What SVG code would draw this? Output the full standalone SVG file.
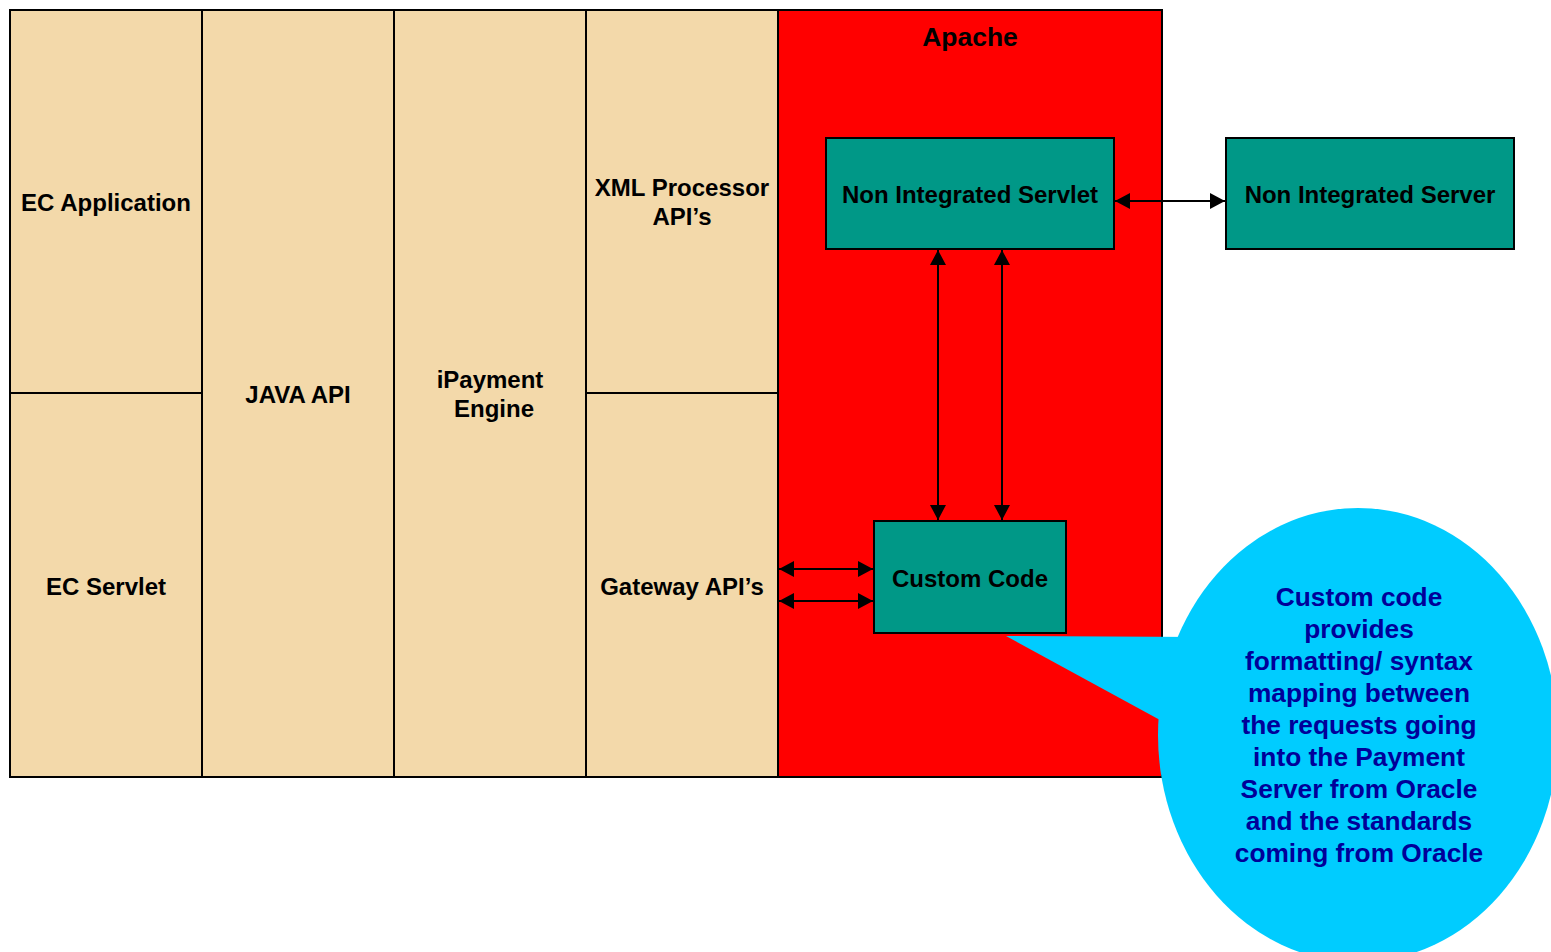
<svg xmlns="http://www.w3.org/2000/svg" width="1551" height="952" viewBox="0 0 1551 952">
<style>
.tan{fill:#F3D9AA;stroke:#000;stroke-width:2}
.teal{fill:#009887;stroke:#000;stroke-width:2}
.t{font-family:"Liberation Sans",Arial,sans-serif;font-weight:bold;font-size:24px;fill:#000;text-anchor:middle}
.c{font-family:"Liberation Sans",Arial,sans-serif;font-weight:bold;font-size:26.3px;fill:#000099;text-anchor:middle}
.ln{stroke:#000;stroke-width:2;fill:none;marker-start:url(#ah);marker-end:url(#ah)}
</style>
<defs>
<marker id="ah" viewBox="0 0 15 16" refX="15" refY="8" markerWidth="15" markerHeight="16" markerUnits="userSpaceOnUse" orient="auto-start-reverse">
<path d="M0,0 L15,8 L0,16 Z" fill="#000"/>
</marker>
</defs>
<rect width="1551" height="952" fill="#fff"/>
<g id="ec-application"><rect class="tan" x="10" y="10" width="192" height="383"/><text class="t" x="106" y="211">EC Application</text></g>
<g id="ec-servlet"><rect class="tan" x="10" y="393" width="192" height="384"/><text class="t" x="106" y="595">EC Servlet</text></g>
<g id="java-api"><rect class="tan" x="202" y="10" width="192" height="767"/><text class="t" x="298" y="403">JAVA API</text></g>
<g id="ipayment-engine"><rect class="tan" x="394" y="10" width="192" height="767"/><text class="t" x="490" y="388">iPayment</text><text class="t" x="494" y="417">Engine</text></g>
<g id="xml-processor"><rect class="tan" x="586" y="10" width="192" height="383"/><text class="t" x="682" y="196">XML Processor</text><text class="t" x="682" y="225">API’s</text></g>
<g id="gateway-api"><rect class="tan" x="586" y="393" width="192" height="384"/><text class="t" x="682" y="595">Gateway API’s</text></g>
<g id="apache"><rect x="778" y="10" width="384" height="767" fill="#FF0000" stroke="#000" stroke-width="2"/><text class="t" x="970" y="46" style="font-size:26.5px">Apache</text></g>
<g id="non-integrated-servlet"><rect class="teal" x="826" y="138" width="288" height="111"/><text class="t" x="970" y="203">Non Integrated Servlet</text></g>
<g id="non-integrated-server"><rect class="teal" x="1226" y="138" width="288" height="111"/><text class="t" x="1370" y="203">Non Integrated Server</text></g>
<g id="custom-code"><rect class="teal" x="874" y="521" width="192" height="112"/><text class="t" x="970" y="587">Custom Code</text></g>
<g id="connectors">
<line class="ln" x1="1115" y1="201" x2="1225" y2="201"/>
<line class="ln" x1="938" y1="250" x2="938" y2="520"/>
<line class="ln" x1="1002" y1="250" x2="1002" y2="520"/>
<line class="ln" x1="779" y1="569" x2="873" y2="569"/>
<line class="ln" x1="779" y1="601" x2="873" y2="601"/>
</g>
<g id="callout">
<polygon points="1006,636 1200,637 1200,735 1160,720" fill="#00CCFF"/>
<ellipse cx="1358" cy="735" rx="200" ry="227" fill="#00CCFF"/>
<text class="c" x="1359" y="606">Custom code</text>
<text class="c" x="1359" y="638">provides</text>
<text class="c" x="1359" y="670">formatting/ syntax</text>
<text class="c" x="1359" y="702">mapping between</text>
<text class="c" x="1359" y="734">the requests going</text>
<text class="c" x="1359" y="766">into the Payment</text>
<text class="c" x="1359" y="798">Server from Oracle</text>
<text class="c" x="1359" y="830">and the standards</text>
<text class="c" x="1359" y="862">coming from Oracle</text>
</g>
</svg>
